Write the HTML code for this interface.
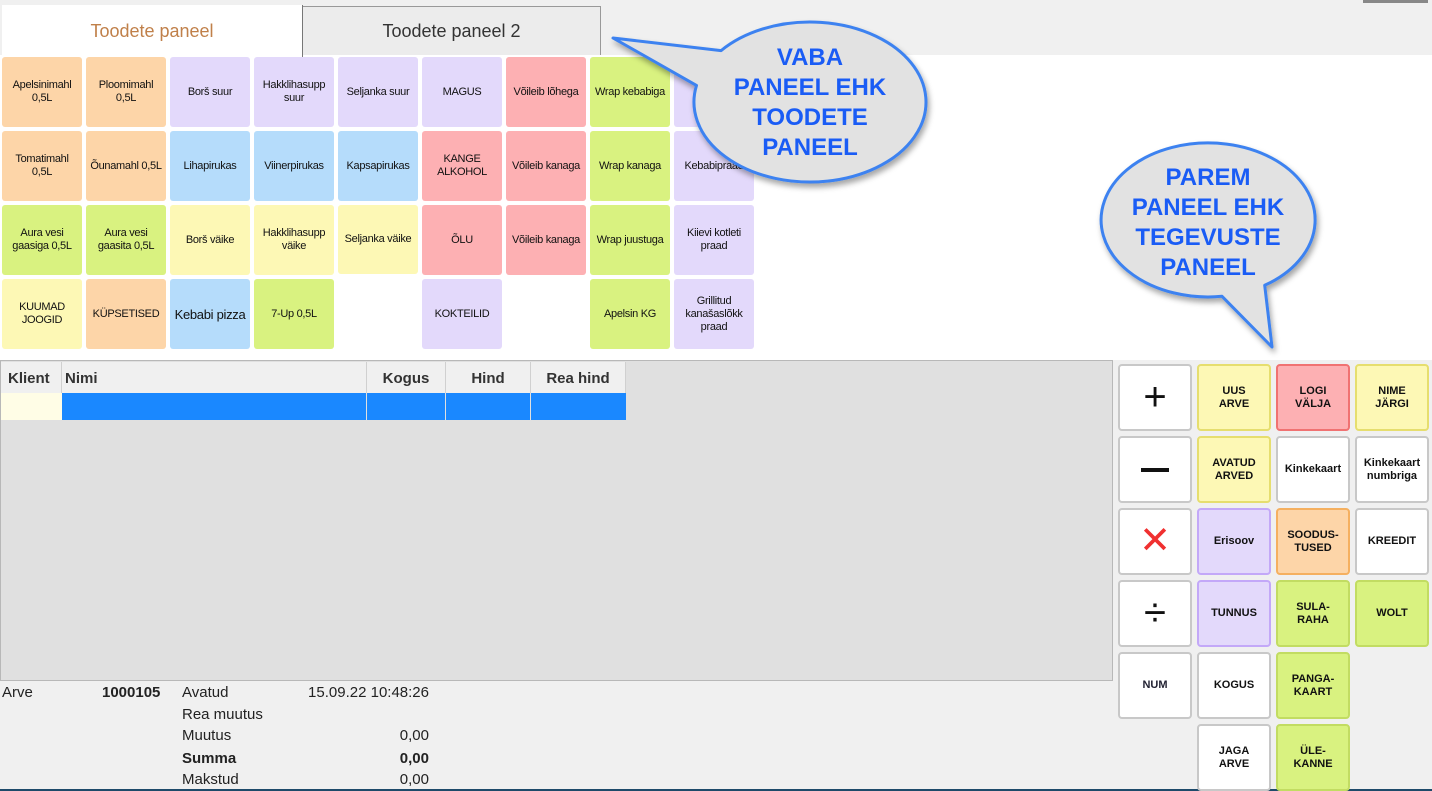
<!DOCTYPE html>
<html><head><meta charset="utf-8"><style>
*{margin:0;padding:0;box-sizing:border-box}
body{width:1432px;height:791px;position:relative;overflow:hidden;background:#fff;font-family:"Liberation Sans",sans-serif;}
.a{position:absolute}
.p{position:absolute;width:80px;height:70px;border-radius:3px;display:flex;align-items:center;justify-content:center;text-align:center;font-size:11px;line-height:13px;color:#111;letter-spacing:-0.3px;padding:0 2px}
.o{background:#fdd5a8}.pu{background:#e3d9fb}.r{background:#fdb0b3}.g{background:#d9f280}.b{background:#b5dcfb}.y{background:#fdf8b5}
.k{position:absolute;width:74px;height:67px;border-radius:4px;border:2px solid #c8c8c8;background:#fff;display:flex;align-items:center;justify-content:center;text-align:center;font-size:11px;line-height:13px;font-weight:bold;color:#111}
.ky{background:#fdf8b5;border-color:#e6de6e}.kr{background:#fdb0b3;border-color:#f07272}.kp{background:#e3d9fb;border-color:#c3a8f8}.ko{background:#fdd5a8;border-color:#f5b060}.kg{background:#d9f280;border-color:#c2dc62}
.h{position:absolute;top:362px;height:31px;background:#f0f0f0;border-right:1px solid #d0d0d0;font-weight:bold;font-size:15px;line-height:33px;color:#333}
.t{position:absolute;font-size:15px;color:#222;line-height:18px}
</style></head><body>
<div class="a" style="left:0;top:0;width:1432px;height:55px;background:#f0f0f0"></div>
<div class="a" style="left:1363px;top:0;width:65px;height:3px;background:#888"></div>
<div class="a" style="left:2px;top:5px;width:301px;height:52px;background:#fff;border-right:1px solid #777;text-align:center;line-height:52px;font-size:18px;color:#c0804a">Toodete paneel</div>
<div class="a" style="left:303px;top:6px;width:298px;height:49px;background:#ececec;border:1px solid #999;border-bottom:none;border-left:none;text-align:center;line-height:49px;font-size:18px;color:#333">Toodete paneel 2</div>

<div class="p o" style="left:2px;top:57px">Apelsinimahl<br>0,5L</div>
<div class="p o" style="left:86px;top:57px">Ploomimahl<br>0,5L</div>
<div class="p pu" style="left:170px;top:57px">Borš suur</div>
<div class="p pu" style="left:254px;top:57px">Hakklihasupp<br>suur</div>
<div class="p pu" style="left:338px;top:57px">Seljanka suur</div>
<div class="p pu" style="left:422px;top:57px">MAGUS</div>
<div class="p r" style="left:506px;top:57px">Võileib lõhega</div>
<div class="p g" style="left:590px;top:57px">Wrap kebabiga</div>
<div class="p pu" style="left:674px;top:57px">k</div>

<div class="p o" style="left:2px;top:131px">Tomatimahl<br>0,5L</div>
<div class="p o" style="left:86px;top:131px">Õunamahl 0,5L</div>
<div class="p b" style="left:170px;top:131px">Lihapirukas</div>
<div class="p b" style="left:254px;top:131px">Viinerpirukas</div>
<div class="p b" style="left:338px;top:131px">Kapsapirukas</div>
<div class="p r" style="left:422px;top:131px">KANGE<br>ALKOHOL</div>
<div class="p r" style="left:506px;top:131px">Võileib kanaga</div>
<div class="p g" style="left:590px;top:131px">Wrap kanaga</div>
<div class="p pu" style="left:674px;top:131px">Kebabipraad</div>

<div class="p g" style="left:2px;top:205px">Aura vesi<br>gaasiga 0,5L</div>
<div class="p g" style="left:86px;top:205px">Aura vesi<br>gaasita 0,5L</div>
<div class="p y" style="left:170px;top:205px">Borš väike</div>
<div class="p y" style="left:254px;top:205px">Hakklihasupp<br>väike</div>
<div class="p y" style="left:338px;top:205px;height:69px">Seljanka väike</div>
<div class="p r" style="left:422px;top:205px">ÕLU</div>
<div class="p r" style="left:506px;top:205px">Võileib kanaga</div>
<div class="p g" style="left:590px;top:205px">Wrap juustuga</div>
<div class="p pu" style="left:674px;top:205px">Kiievi kotleti<br>praad</div>

<div class="p y" style="left:2px;top:279px">KUUMAD<br>JOOGID</div>
<div class="p o" style="left:86px;top:279px">KÜPSETISED</div>
<div class="p b" style="left:170px;top:279px;font-size:13px">Kebabi pizza</div>
<div class="p g" style="left:254px;top:279px">7-Up 0,5L</div>
<div class="p pu" style="left:422px;top:279px">KOKTEILID</div>
<div class="p g" style="left:590px;top:279px">Apelsin KG</div>
<div class="p pu" style="left:674px;top:279px">Grillitud<br>kanašaslõkk<br>praad</div>

<div class="a" style="left:0;top:360px;width:1113px;height:321px;background:#e0e0e0;border:1px solid #b8b8b8"></div>
<div class="a" style="left:1113px;top:360px;width:319px;height:431px;background:#f0f0f0"></div>
<div class="h" style="left:1px;width:61px;padding-left:7px">Klient</div>
<div class="h" style="left:62px;width:305px;padding-left:3px">Nimi</div>
<div class="h" style="left:367px;width:79px;text-align:center">Kogus</div>
<div class="h" style="left:446px;width:85px;text-align:center">Hind</div>
<div class="h" style="left:531px;width:95px;text-align:center">Rea hind</div>
<div class="a" style="left:1px;top:393px;width:61px;height:27px;background:#fffde6"></div>
<div class="a" style="left:62px;top:393px;width:564px;height:27px;background:#1a88ff"></div>
<div class="a" style="left:366px;top:393px;width:1px;height:27px;background:#e0e0e0"></div>
<div class="a" style="left:445px;top:393px;width:1px;height:27px;background:#e0e0e0"></div>
<div class="a" style="left:530px;top:393px;width:1px;height:27px;background:#e0e0e0"></div>

<div class="a" style="left:0;top:681px;width:1113px;height:110px;background:#f0f0f0"></div>
<div class="t" style="left:2px;top:684px">Arve</div>
<div class="t" style="left:102px;top:684px;font-weight:bold">1000105</div>
<div class="t" style="left:182px;top:684px">Avatud</div>
<div class="t" style="left:230px;top:684px;width:199px;text-align:right">15.09.22 10:48:26</div>
<div class="t" style="left:182px;top:706px">Rea muutus</div>
<div class="t" style="left:182px;top:727px">Muutus</div>
<div class="t" style="left:330px;top:727px;width:99px;text-align:right">0,00</div>
<div class="t" style="left:182px;top:750px;font-weight:bold">Summa</div>
<div class="t" style="left:330px;top:750px;width:99px;text-align:right;font-weight:bold">0,00</div>
<div class="t" style="left:182px;top:771px">Makstud</div>
<div class="t" style="left:330px;top:771px;width:99px;text-align:right">0,00</div>
<div class="a" style="left:0;top:789px;width:1432px;height:2px;background:#1e4a6a"></div>

<div class="k" style="left:1118px;top:364px;font-size:40px;font-weight:normal">+</div>
<div class="k" style="left:1118px;top:436px"><div style="width:28px;height:4px;background:#111"></div></div>
<div class="k" style="left:1118px;top:508px;color:#f03030;font-size:38px;font-weight:normal">✕</div>
<div class="k" style="left:1118px;top:580px;font-size:40px;font-weight:normal">÷</div>
<div class="k" style="left:1118px;top:652px;color:#223">NUM</div>
<div class="k ky" style="left:1197px;top:364px">UUS<br>ARVE</div>
<div class="k kr" style="left:1276px;top:364px">LOGI<br>VÄLJA</div>
<div class="k ky" style="left:1355px;top:364px">NIME<br>JÄRGI</div>
<div class="k ky" style="left:1197px;top:436px">AVATUD<br>ARVED</div>
<div class="k" style="left:1276px;top:436px">Kinkekaart</div>
<div class="k" style="left:1355px;top:436px">Kinkekaart<br>numbriga</div>
<div class="k kp" style="left:1197px;top:508px">Erisoov</div>
<div class="k ko" style="left:1276px;top:508px">SOODUS-<br>TUSED</div>
<div class="k" style="left:1355px;top:508px">KREEDIT</div>
<div class="k kp" style="left:1197px;top:580px">TUNNUS</div>
<div class="k kg" style="left:1276px;top:580px">SULA-<br>RAHA</div>
<div class="k kg" style="left:1355px;top:580px">WOLT</div>
<div class="k" style="left:1197px;top:652px">KOGUS</div>
<div class="k kg" style="left:1276px;top:652px">PANGA-<br>KAART</div>
<div class="k" style="left:1197px;top:724px">JAGA<br>ARVE</div>
<div class="k kg" style="left:1276px;top:724px">ÜLE-<br>KANNE</div>

<svg class="a" style="left:0;top:0" width="1432" height="791">
<defs><filter id="sh" x="-20%" y="-20%" width="140%" height="140%"><feDropShadow dx="2" dy="4" stdDeviation="3" flood-color="#000" flood-opacity="0.35"/></filter></defs>
<g filter="url(#sh)" fill="#e2e2e2" stroke="#3c82f0" stroke-width="3" stroke-linejoin="round">
<path d="M 696.5 85.4 L 613 38 L 721.1 50.6 A 116 80 0 1 1 696.5 85.4 Z"/>
<path d="M 1222 296.3 L 1272 347 L 1264.7 285.3 A 107 77 0 1 0 1222 296.3 Z"/>
</g>
<g fill="#1a5cf5" font-family="Liberation Sans, sans-serif" font-weight="bold" font-size="24" text-anchor="middle">
<text x="810" y="65">VABA</text>
<text x="810" y="95">PANEEL EHK</text>
<text x="810" y="125">TOODETE</text>
<text x="810" y="155">PANEEL</text>
<text x="1208" y="185">PAREM</text>
<text x="1208" y="215">PANEEL EHK</text>
<text x="1208" y="245">TEGEVUSTE</text>
<text x="1208" y="275">PANEEL</text>
</g>
</svg>
</body></html>
